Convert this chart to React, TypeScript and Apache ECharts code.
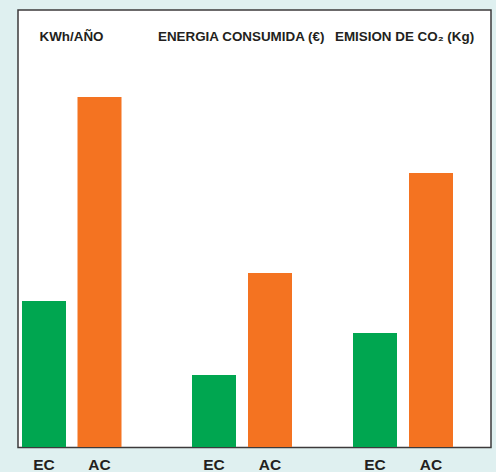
import React, { useEffect, useRef } from "react";
import * as echarts from "echarts";

const groupTitles = ["KWh/AÑO", "ENERGIA CONSUMIDA (€)", "EMISION DE CO₂ (Kg)"];
const barLabels = ["EC", "AC"];
// relative bar heights (same arbitrary scale, max 400)
const ecValues = [146, 72, 114];
const acValues = [350, 174, 274];
const yMax = 400;

const GREEN = "#00a650";
const ORANGE = "#f47321";
const TEXT = "#231f20";

export default function App() {
  const ref = useRef<HTMLDivElement>(null);
  useEffect(() => {
    document.body.style.margin = "0";
    if (!ref.current) return;
    const chart = echarts.init(ref.current, null, { renderer: "svg" });
    const grids = [
      { left: 16.25, width: 111 },
      { left: 186, width: 112 },
      { left: 347, width: 112 },
    ];
    const titleX = [39.5, 158, 335];
    chart.setOption({
      animation: false,
      backgroundColor: "#dff0f0",
      grid: grids.map((g) => ({ left: g.left, width: g.width, top: 47, bottom: 25 })),
      xAxis: grids.map((_, i) => ({
        type: "category",
        gridIndex: i,
        data: barLabels,
        axisLine: { show: false },
        axisTick: { show: false },
        axisLabel: {
          color: TEXT,
          fontFamily: "Liberation Sans, Arial, sans-serif",
          fontWeight: "bold",
          fontSize: 15.5,
          margin: 9,
        },
      })),
      yAxis: grids.map((_, i) => ({
        type: "value",
        gridIndex: i,
        min: 0,
        max: yMax,
        show: false,
        splitLine: { show: false },
      })),
      series: grids.map((_, i) => ({
        type: "bar",
        xAxisIndex: i,
        yAxisIndex: i,
        barWidth: 44,
        z: 3,
        data: [
          { value: ecValues[i], itemStyle: { color: GREEN } },
          { value: acValues[i], itemStyle: { color: ORANGE } },
        ],
      })),
      graphic: [
        {
          type: "rect",
          z: -10,
          shape: { x: 18, y: 10, width: 473, height: 437.5 },
          style: { fill: "#ffffff", stroke: "#3c3a3b", lineWidth: 1.5 },
        },
        ...groupTitles.map((t, i) => ({
          type: "text",
          x: titleX[i],
          y: 36,
          z: 5,
          style: {
            text: t,
            fill: TEXT,
            font: "bold 13.4px 'Liberation Sans', Arial, sans-serif",
            textVerticalAlign: "middle",
          },
        })),
      ],
    });
    return () => chart.dispose();
  }, []);
  return <div ref={ref} style={{ width: 496, height: 472 }} />;
}
